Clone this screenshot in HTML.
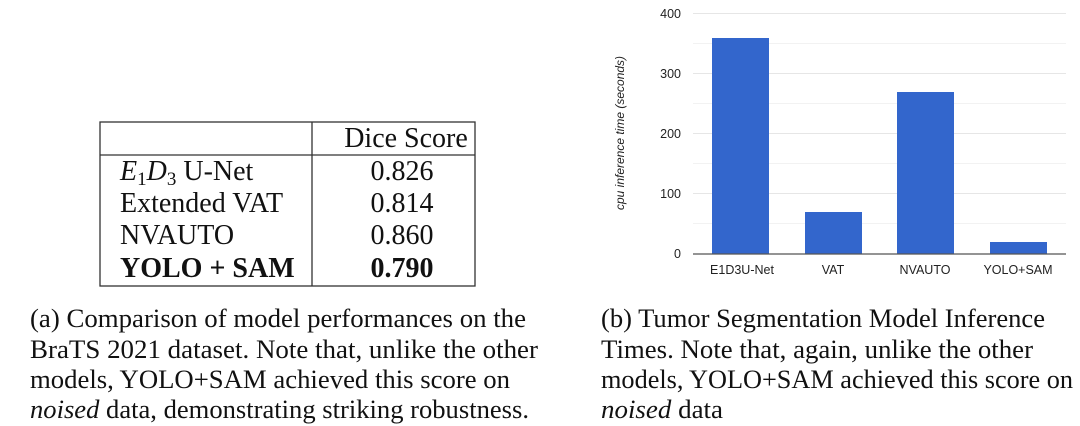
<!DOCTYPE html>
<html><head><meta charset="utf-8"><style>
body{margin:0;background:#fff;}
svg{display:block}
.s{font-family:"Liberation Serif",serif;fill:#111}
.a{font-family:"Liberation Sans",sans-serif;fill:#222}
</style></head><body>
<svg width="1080" height="426" viewBox="0 0 1080 426">
<rect x="100" y="122" width="375" height="164" fill="none" stroke="#333" stroke-width="1.3"/>
<line x1="100" y1="155" x2="475" y2="155" stroke="#333" stroke-width="1.3"/>
<line x1="312" y1="122" x2="312" y2="286" stroke="#333" stroke-width="1.3"/>
<g class="s" font-size="28">
<text x="406" y="147" text-anchor="middle">Dice Score</text>
<text x="120" y="180"><tspan font-style="italic">E</tspan><tspan font-size="19" dy="5">1</tspan><tspan font-style="italic" dy="-5">D</tspan><tspan font-size="19" dy="5">3</tspan><tspan dy="-5"> U-Net</tspan></text>
<text x="120" y="212">Extended VAT</text>
<text x="120" y="244">NVAUTO</text>
<text x="120" y="277" font-weight="bold">YOLO + SAM</text>
<text x="402" y="180" text-anchor="middle">0.826</text>
<text x="402" y="212" text-anchor="middle">0.814</text>
<text x="402" y="244" text-anchor="middle">0.860</text>
<text x="402" y="277" text-anchor="middle" font-weight="bold">0.790</text>
</g>
<g class="s" font-size="26">
<text x="30" y="327" textLength="496" lengthAdjust="spacingAndGlyphs">(a) Comparison of model performances on the</text>
<text x="30" y="358" textLength="508" lengthAdjust="spacingAndGlyphs">BraTS 2021 dataset. Note that, unlike the other</text>
<text x="30" y="388" textLength="480" lengthAdjust="spacingAndGlyphs">models, YOLO+SAM achieved this score on</text>
<text x="30" y="418" textLength="499" lengthAdjust="spacingAndGlyphs"><tspan font-style="italic">noised</tspan> data, demonstrating striking robustness.</text>
<text x="601" y="327" textLength="444" lengthAdjust="spacingAndGlyphs">(b) Tumor Segmentation Model Inference</text>
<text x="601" y="358" textLength="432" lengthAdjust="spacingAndGlyphs">Times. Note that, again, unlike the other</text>
<text x="601" y="388" textLength="472" lengthAdjust="spacingAndGlyphs">models, YOLO+SAM achieved this score on</text>
<text x="601" y="418" textLength="122" lengthAdjust="spacingAndGlyphs"><tspan font-style="italic">noised</tspan> data</text>
</g>
<g stroke="#e6e6e6" stroke-width="1">
<line x1="693" y1="13.5" x2="1066" y2="13.5"/>
<line x1="693" y1="43.5" x2="1066" y2="43.5" stroke="#f2f2f2"/>
<line x1="693" y1="73.5" x2="1066" y2="73.5"/>
<line x1="693" y1="103.5" x2="1066" y2="103.5" stroke="#f2f2f2"/>
<line x1="693" y1="133.5" x2="1066" y2="133.5"/>
<line x1="693" y1="163.5" x2="1066" y2="163.5" stroke="#f2f2f2"/>
<line x1="693" y1="193.5" x2="1066" y2="193.5"/>
<line x1="693" y1="223.5" x2="1066" y2="223.5" stroke="#f2f2f2"/>
</g>
<g fill="#3366cc">
<rect x="712" y="38" width="57" height="216"/>
<rect x="805" y="212" width="57" height="42"/>
<rect x="897" y="92" width="57" height="162"/>
<rect x="990" y="242" width="57" height="12"/>
</g>
<line x1="693" y1="254" x2="1066" y2="254" stroke="#555" stroke-width="1.2"/>
<g class="a" font-size="12.5" text-anchor="end">
<text x="681" y="18">400</text>
<text x="681" y="78">300</text>
<text x="681" y="138">200</text>
<text x="681" y="198">100</text>
<text x="681" y="258">0</text>
</g>
<g class="a" font-size="12.5" text-anchor="middle">
<text x="742" y="274">E1D3U-Net</text>
<text x="833" y="274">VAT</text>
<text x="925" y="274">NVAUTO</text>
<text x="1018" y="274">YOLO+SAM</text>
</g>
<text class="a" font-size="12" font-style="italic" text-anchor="middle" transform="translate(624,133) rotate(-90)">cpu inference time (seconds)</text>
</svg>
</body></html>
